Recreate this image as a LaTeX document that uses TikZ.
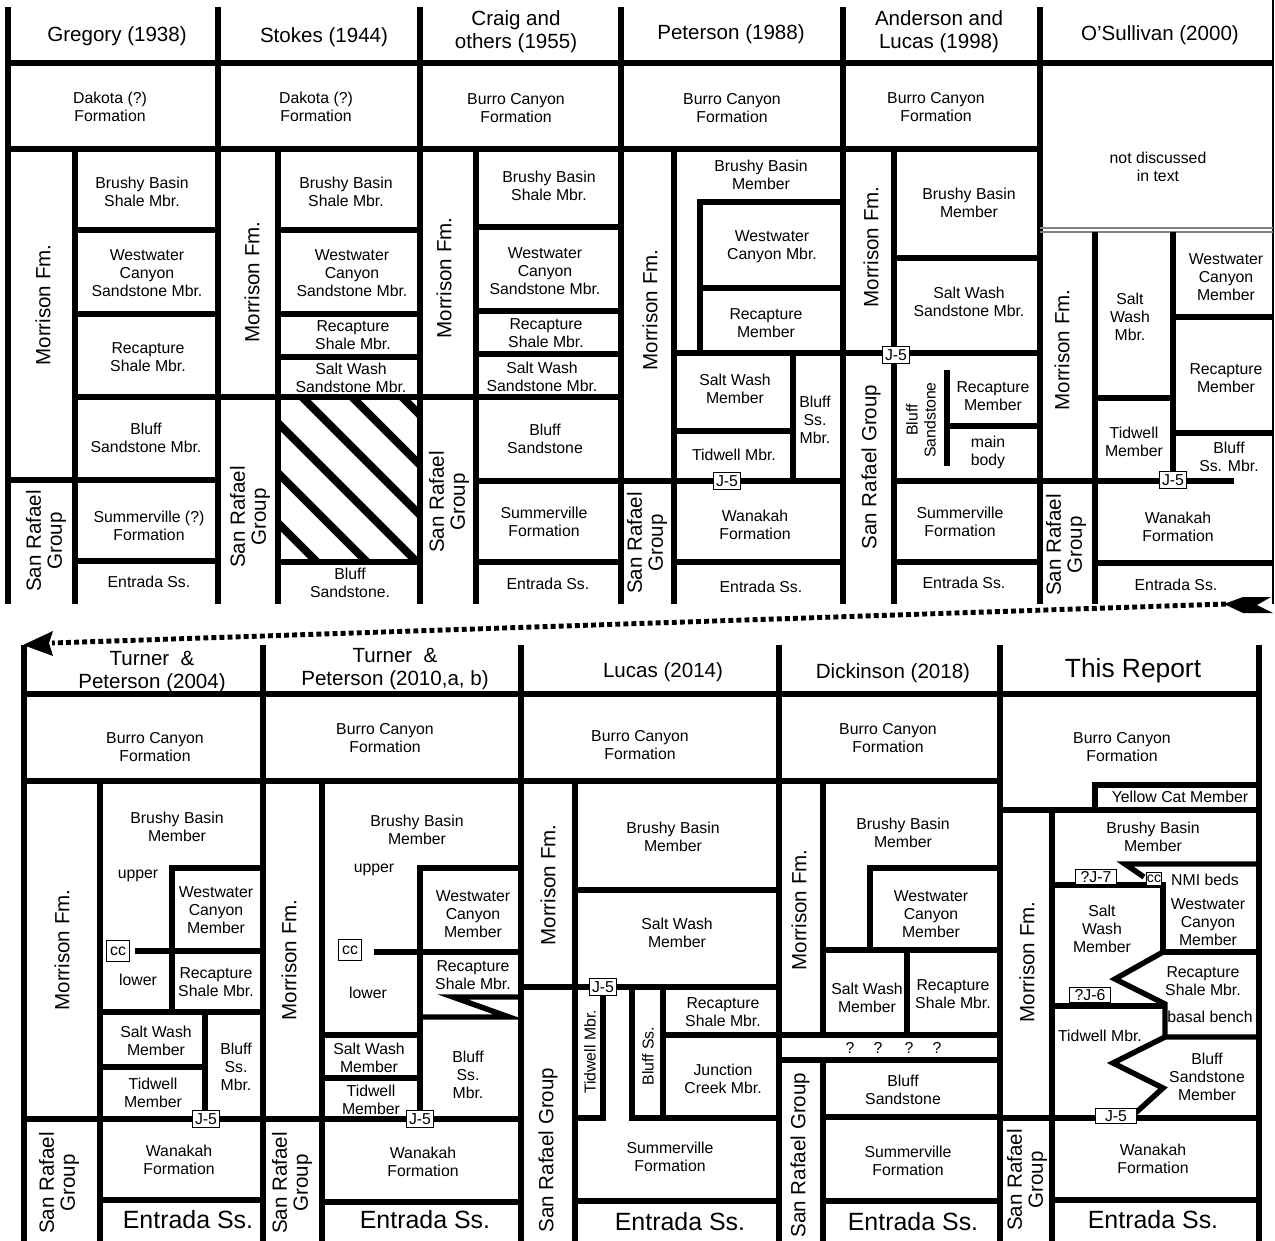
\documentclass[tikz,border=0pt]{standalone}
\usepackage{fontspec}
\setmainfont{Liberation Sans}

\begin{document}
\begin{tikzpicture}[x=0.02cm, y=-0.02cm, line width=3.1pt,
  lbl/.style={font=\fontsize{9}{10.3}\selectfont, align=center},
  hd/.style={font=\fontsize{11.7}{13}\selectfont, align=center},
  rot/.style={font=\fontsize{11.7}{12}\selectfont, align=center, rotate=90},
  rotsm/.style={lbl, rotate=90},
  big/.style={font=\fontsize{14.2}{16}\selectfont},
  tag/.style={draw, line width=0.6pt, fill=white, font=\fontsize{9}{10}\selectfont, inner sep=1.2pt, minimum height=10pt},
  widetag/.style={tag, minimum width=23pt, minimum height=9pt, inner sep=0.5pt},
  cctag/.style={tag, minimum width=13.5pt, minimum height=12pt},
  hatch/.style={line width=4.5pt},
  dotline/.style={line width=2.8pt, dash pattern=on 2.8pt off 1.8pt}]
  \useasboundingbox (0,0) rectangle (1275,1241);

  % upper chart
  \foreach \x in {8,218,420,621,843,1040} \draw (\x,7) -- (\x,604);
  \draw[line width=0.8pt] (1273,0) -- (1273,604);
  \draw (8,63) -- (1273,63);
  \draw (8,149) -- (1040,149);
  \draw[line width=0.6pt, gray] (1040,228) -- (1273,228) (1040,232) -- (1273,232);
  \foreach \x in {75,278,476,674,894} \draw (\x,149) -- (\x,604);
  \draw (1095,232) -- (1095,604);

  \draw (75,230) -- (218,230);
  \draw (75,314) -- (218,314);
  \draw (75,397) -- (621,397);
  \draw (8,480) -- (218,480);
  \draw (75,561) -- (218,561);

  \draw (278,230) -- (420,230);
  \draw (278,314) -- (420,314);
  \draw (278,357) -- (420,357);
  \draw (278,562) -- (420,562);
  \begin{scope}
    \clip (278,397) rectangle (420,562);
    \foreach \h in {-5,45,...,245} \draw[hatch] (278,278+\h) -- (420,420+\h);
  \end{scope}

  \draw (476,227) -- (621,227);
  \draw (476,311) -- (621,311);
  \draw (476,354) -- (621,354);
  \draw (476,481) -- (843,481);
  \draw (476,562) -- (621,562);

  \draw (843,202) -- (700,202) -- (700,353);
  \draw (700,288) -- (843,288);
  \draw (674,353) -- (1040,353);
  \draw (674,431) -- (793,431);
  \draw (793,353) -- (793,481);
  \draw (674,562) -- (843,562);

  \draw (894,258) -- (1040,258);
  \draw (947,370) -- (947,466);
  \draw (947,426) -- (1040,426);
  \draw (894,481) -- (1234,481);
  \draw (894,562) -- (1040,562);

  \draw (1173,232) -- (1173,481);
  \draw (1095,398) -- (1173,398);
  \draw (1173,317) -- (1273,317);
  \draw (1173,433) -- (1273,433);
  \draw (1095,563) -- (1273,563);

  \node [hd] (greg) at (117,36) {Gregory (1938)};
  \node [hd] (stok) at (324,37) {Stokes (1944)};
  \node [hd] (crai) at (516,32) {Craig and\\others (1955)};
  \node [hd] (pete) at (731,34) {Peterson (1988)};
  \node [hd] (ande) at (939,32) {Anderson and\\Lucas (1998)};
  \node [hd] (osul) at (1160,35) {O’Sullivan (2000)};

  \node [lbl] (gregDak) at (110,107) {Dakota (?)\\Formation};
  \node [lbl] (stokDak) at (316,107) {Dakota (?)\\Formation};
  \node [lbl] (craiBur) at (516,108) {Burro Canyon\\Formation};
  \node [lbl] (peteBur) at (732,108) {Burro Canyon\\Formation};
  \node [lbl] (andeBur) at (936,107) {Burro Canyon\\Formation};
  \node [lbl] (osulNot) at (1158,167) {not discussed\\in text};

  \node [lbl] (gregBB) at (142,192) {Brushy Basin\\Shale Mbr.};
  \node [lbl] (gregWW) at (147,273) {Westwater\\Canyon\\Sandstone Mbr.};
  \node [lbl] (gregRc) at (148,357) {Recapture\\Shale Mbr.};
  \node [lbl] (gregBl) at (146,438) {Bluff\\Sandstone Mbr.};
  \node [lbl] (gregSv) at (149,526) {Summerville (?)\\Formation};
  \node [lbl] (gregEn) at (149,582) {Entrada Ss.};
  \node [rot] (gregMo) at (43,305) {Morrison Fm.};
  \node [rot] (gregSR) at (46,541) {San Rafael\\Group};

  \node [lbl] (stokBB) at (346,192) {Brushy Basin\\Shale Mbr.};
  \node [lbl] (stokWW) at (352,273) {Westwater\\Canyon\\Sandstone Mbr.};
  \node [lbl] (stokRc) at (353,335) {Recapture\\Shale Mbr.};
  \node [lbl] (stokSW) at (351,378) {Salt Wash\\Sandstone Mbr.};
  \node [lbl] (stokBl) at (350,583) {Bluff\\Sandstone.};
  \node [rot] (stokMo) at (252,282) {Morrison Fm.};
  \node [rot] (stokSR) at (250,517) {San Rafael\\Group};

  \node [lbl] (craiBB) at (549,186) {Brushy Basin\\Shale Mbr.};
  \node [lbl] (craiWW) at (545,271) {Westwater\\Canyon\\Sandstone Mbr.};
  \node [lbl] (craiRc) at (546,333) {Recapture\\Shale Mbr.};
  \node [lbl] (craiSW) at (542,377) {Salt Wash\\Sandstone Mbr.};
  \node [lbl] (craiBl) at (545,439) {Bluff\\Sandstone};
  \node [lbl] (craiSv) at (544,522) {Summerville\\Formation};
  \node [lbl] (craiEn) at (548,584) {Entrada Ss.};
  \node [rot] (craiMo) at (444,278) {Morrison Fm.};
  \node [rot] (craiSR) at (449,502) {San Rafael\\Group};

  \node [lbl] (peteBB) at (761,175) {Brushy Basin\\Member};
  \node [lbl] (peteWW) at (772,247) {Westwater\\Canyon Mbr.};
  \node [lbl] (peteRc) at (766,323) {Recapture\\Member};
  \node [lbl] (peteSW) at (735,389) {Salt Wash\\Member};
  \node [lbl] (peteBl) at (815,420) {Bluff\\Ss.\\Mbr.};
  \node [lbl] (peteTi) at (734,455) {Tidwell Mbr.};
  \node [lbl] (peteWa) at (755,525) {Wanakah\\Formation};
  \node [lbl] (peteEn) at (761,587) {Entrada Ss.};
  \node [rot] (peteMo) at (650,310) {Morrison Fm.};
  \node [rot] (peteSR) at (647,543) {San Rafael\\Group};
  \node [tag] (peteJ5) at (727,481) {J-5};

  \node [lbl] (andeBB) at (969,203) {Brushy Basin\\Member};
  \node [lbl] (andeSW) at (969,302) {Salt Wash\\Sandstone Mbr.};
  \node [lbl] (andeRc) at (993,396) {Recapture\\Member};
  \node [lbl] (andeMb) at (988,452) {main\\body};
  \node [rotsm] (andeBl) at (921,420) {Bluff\\Sandstone};
  \node [lbl] (andeSv) at (960,522) {Summerville\\Formation};
  \node [lbl] (andeEn) at (964,583) {Entrada Ss.};
  \node [rot] (andeMo) at (871,247) {Morrison Fm.};
  \node [rot] (andeSR) at (871,467) {San Rafael Group};
  \node [tag] (andeJ5) at (896,355) {J-5};

  \node [lbl] (osulSW) at (1130,317) {Salt\\Wash\\Mbr.};
  \node [lbl] (osulWW) at (1226,277) {Westwater\\Canyon\\Member};
  \node [lbl] (osulRc) at (1226,378) {Recapture\\Member};
  \node [lbl] (osulTi) at (1134,442) {Tidwell\\Member};
  \node [lbl] (osulBl) at (1229,457) {Bluff\\Ss. Mbr.};
  \node [lbl] (osulWa) at (1178,527) {Wanakah\\Formation};
  \node [lbl] (osulEn) at (1176,585) {Entrada Ss.};
  \node [rot] (osulMo) at (1062,350) {Morrison Fm.};
  \node [rot] (osulSR) at (1066,545) {San Rafael\\Group};
  \node [tag] (osulJ5) at (1173,480) {J-5};

  % dotted arrow down to the lower chart
  \coordinate (tailR) at (1226,604);
  \coordinate (headL) at (52,643);
  \draw[dotline] (tailR) -- (headL);
  \fill (1224,604) -- (1243,597) -- (1271,597) -- (1257,605) -- (1273,613) -- (1243,613) -- cycle;
  \fill (23,645) -- (53,631) -- (49,643) -- (53,656) -- cycle;

  % lower chart
  \foreach \x in {24,263,521,779,1000,1259} \draw (\x,645) -- (\x,1241);
  \draw (24,694) -- (1259,694);
  \draw (24,781) -- (1000,781);
  \draw (1259,785) -- (1095,785) -- (1095,810);
  \draw (1000,810) -- (1259,810);
  \foreach \x in {100,322,575} \draw (\x,781) -- (\x,1241);

  \draw (263,868) -- (172,868) -- (172,1012);
  \draw (135,951) -- (263,951);
  \draw (100,1012) -- (263,1012);
  \draw (205,1012) -- (205,1119);
  \draw (100,1067) -- (205,1067);
  \draw (24,1119) -- (521,1119);
  \draw (100,1200) -- (263,1200);

  \draw (521,868) -- (420,868) -- (420,1119);
  \draw (374,952) -- (521,952);
  \draw (521,997) -- (453,997) -- (509,1017) -- (420,1017);
  \draw (322,1035) -- (420,1035);
  \draw (322,1078) -- (420,1078);
  \draw (322,1202) -- (521,1202);

  \draw (575,890) -- (779,890);
  \draw (521,987) -- (779,987);
  \draw (603,987) -- (603,1118) -- (575,1118);
  \draw (632,987) -- (632,1118) -- (779,1118);
  \draw (663,987) -- (663,1118);
  \draw (663,1035) -- (779,1035);
  \draw (575,1201) -- (779,1201);

  \draw (823,781) -- (823,1035);
  \draw (1000,868) -- (870,868) -- (870,950);
  \draw (823,950) -- (1000,950);
  \draw (907,950) -- (907,1035);
  \draw (779,1035) -- (1000,1035);
  \draw (779,1060) -- (1000,1060);
  \draw (823,1060) -- (823,1241);
  \draw (823,1117) -- (1000,1117);
  \draw (823,1201) -- (1000,1201);

  \draw (1052,810) -- (1052,1241);
  \draw (1259,864) -- (1125,864) -- (1144,877);
  \draw (1052,885) -- (1163,885) -- (1163,952) -- (1259,952);
  \draw (1163,952) -- (1115,979) -- (1165,1004) -- (1165,1037) -- (1259,1037);
  \draw (1052,1006) -- (1165,1006);
  \draw (1165,1037) -- (1113,1063) -- (1163,1088) -- (1130,1118);
  \draw (1000,1118) -- (1259,1118);
  \draw (1052,1200) -- (1259,1200);

  \node [hd] (turA) at (152,672) {Turner\ \ \&\\Peterson (2004)};
  \node [hd] (turB) at (395,669) {Turner\ \ \&\\Peterson (2010,a, b)};
  \node [hd] (luca) at (663,672) {Lucas (2014)};
  \node [hd] (dick) at (893,673) {Dickinson (2018)};
  \node [font=\fontsize{15}{17}\selectfont] (this) at (1133,671) {This Report};

  \node [lbl] (turABur) at (155,747) {Burro Canyon\\Formation};
  \node [lbl] (turABB) at (177,827) {Brushy Basin\\Member};
  \node [lbl] (turAUp) at (138,876) {upper};
  \node [lbl] (turAWW) at (216,910) {Westwater\\Canyon\\Member};
  \node [lbl] (turALo) at (138,980) {lower};
  \node [lbl] (turARc) at (216,982) {Recapture\\Shale Mbr.};
  \node [lbl] (turASW) at (156,1041) {Salt Wash\\Member};
  \node [lbl] (turATi) at (153,1093) {Tidwell\\Member};
  \node [lbl] (turABl) at (236,1067) {Bluff\\Ss.\\Mbr.};
  \node [lbl] (turAWa) at (179,1160) {Wanakah\\Formation};
  \node [big] (turAEn) at (188,1220) {Entrada Ss.};
  \node [rot] (turAMo) at (62,950) {Morrison Fm.};
  \node [rot] (turASR) at (59,1183) {San Rafael\\Group};
  \node [cctag] (turAcc) at (118,951) {cc};
  \node [tag] (turAJ5) at (206,1119) {J-5};

  \node [lbl] (turBBur) at (385,738) {Burro Canyon\\Formation};
  \node [lbl] (turBBB) at (417,830) {Brushy Basin\\Member};
  \node [lbl] (turBUp) at (374,870) {upper};
  \node [lbl] (turBWW) at (473,914) {Westwater\\Canyon\\Member};
  \node [lbl] (turBLo) at (368,993) {lower};
  \node [lbl] (turBRc) at (473,975) {Recapture\\Shale Mbr.};
  \node [lbl] (turBSW) at (369,1058) {Salt Wash\\Member};
  \node [lbl] (turBTi) at (371,1100) {Tidwell\\Member};
  \node [lbl] (turBBl) at (468,1075) {Bluff\\Ss.\\Mbr.};
  \node [lbl] (turBWa) at (423,1162) {Wanakah\\Formation};
  \node [big] (turBEn) at (425,1220) {Entrada Ss.};
  \node [rot] (turBMo) at (289,960) {Morrison Fm.};
  \node [rot] (turBSR) at (292,1183) {San Rafael\\Group};
  \node [cctag] (turBcc) at (350,950) {cc};
  \node [tag] (turBJ5) at (420,1119) {J-5};

  \node [lbl] (lucaBur) at (640,745) {Burro Canyon\\Formation};
  \node [lbl] (lucaBB) at (673,837) {Brushy Basin\\Member};
  \node [lbl] (lucaSW) at (677,933) {Salt Wash\\Member};
  \node [rotsm] (lucaTi) at (590,1052) {Tidwell Mbr.};
  \node [rotsm] (lucaBl) at (648,1056) {Bluff Ss.};
  \node [lbl] (lucaRc) at (723,1012) {Recapture\\Shale Mbr.};
  \node [lbl] (lucaJC) at (723,1079) {Junction\\Creek Mbr.};
  \node [lbl] (lucaSv) at (670,1157) {Summerville\\Formation};
  \node [big] (lucaEn) at (680,1222) {Entrada Ss.};
  \node [rot] (lucaMo) at (548,885) {Morrison Fm.};
  \node [rot] (lucaSR) at (548,1150) {San Rafael Group};
  \node [tag] (lucaJ5) at (603,987) {J-5};

  \node [lbl] (dickBur) at (888,738) {Burro Canyon\\Formation};
  \node [lbl] (dickBB) at (903,833) {Brushy Basin\\Member};
  \node [lbl] (dickWW) at (931,914) {Westwater\\Canyon\\Member};
  \node [lbl] (dickSW) at (867,998) {Salt Wash\\Member};
  \node [lbl] (dickRc) at (953,994) {Recapture\\Shale Mbr.};
  \foreach \q/\x in {1/850,2/878,3/909,4/937}
    \node [lbl] (dickQ\q) at (\x,1048) {?};
  \node [lbl] (dickBl) at (903,1090) {Bluff\\Sandstone};
  \node [lbl] (dickSv) at (908,1161) {Summerville\\Formation};
  \node [big] (dickEn) at (913,1222) {Entrada Ss.};
  \node [rot] (dickMo) at (799,910) {Morrison Fm.};
  \node [rot] (dickSR) at (800,1155) {San Rafael Group};

  \node [lbl] (thisBur) at (1122,747) {Burro Canyon\\Formation};
  \node [lbl] (thisYC) at (1180,797) {Yellow Cat Member};
  \node [lbl] (thisBB) at (1153,837) {Brushy Basin\\Member};
  \node [lbl] (thisNMI) at (1205,880) {NMI beds};
  \node [lbl] (thisWW) at (1208,922) {Westwater\\Canyon\\Member};
  \node [lbl] (thisSW) at (1102,929) {Salt\\Wash\\Member};
  \node [lbl] (thisRc) at (1203,981) {Recapture\\Shale Mbr.};
  \node [lbl] (thisBb) at (1210,1017) {basal bench};
  \node [lbl] (thisTi) at (1100,1036) {Tidwell Mbr.};
  \node [lbl] (thisBl) at (1207,1077) {Bluff\\Sandstone\\Member};
  \node [lbl] (thisWa) at (1153,1159) {Wanakah\\Formation};
  \node [big] (thisEn) at (1153,1220) {Entrada Ss.};
  \node [rot] (thisMo) at (1027,962) {Morrison Fm.};
  \node [rot] (thisSR) at (1027,1180) {San Rafael\\Group};
  \node [widetag] (thisJ7) at (1096,877) {?J-7};
  \node [tag, font=\fontsize{8}{9}\selectfont, inner sep=0.5pt, minimum height=7pt] (thiscc) at (1154,879) {cc};
  \node [widetag] (thisJ6) at (1090,995) {?J-6};
  \node [widetag] (thisJ5) at (1116,1116) {J-5};
\end{tikzpicture}
\end{document}
